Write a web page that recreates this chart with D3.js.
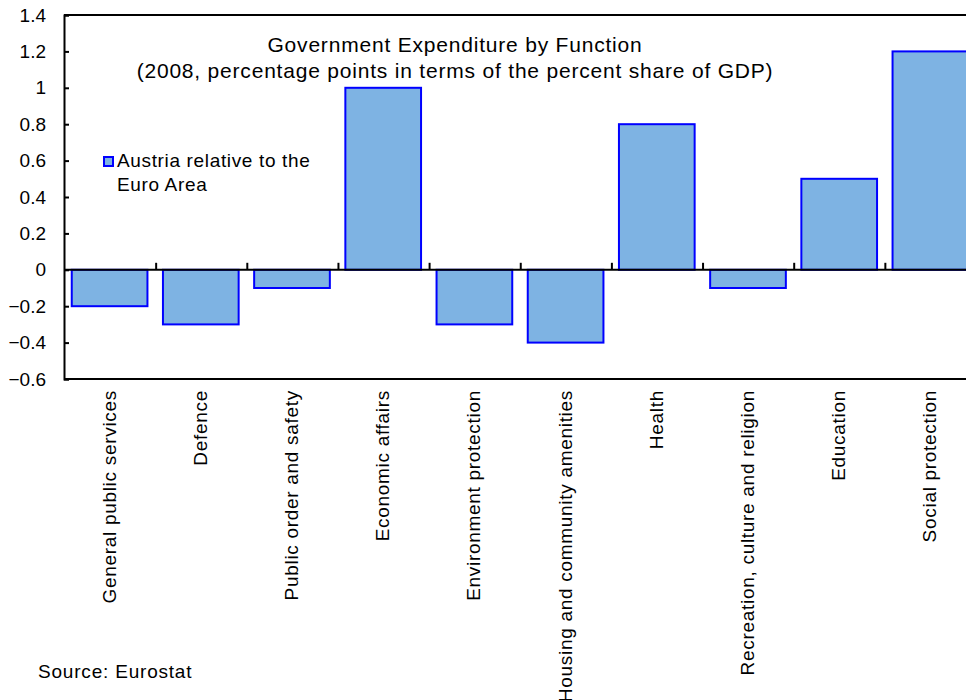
<!DOCTYPE html>
<html><head><meta charset="utf-8">
<script src="https://cdn.jsdelivr.net/npm/d3@7"></script>
<style>body{margin:0;background:#fff;} text{font-family:"Liberation Sans",Arial,sans-serif;fill:#000;}</style>
</head><body><svg id="c" width="966" height="700"></svg>
<script>
const categories = ["General public services","Defence","Public order and safety","Economic affairs","Environment protection","Housing and community amenities","Health","Recreation, culture and religion","Education","Social protection"];
const values = [-0.2,-0.3,-0.1,1.0,-0.3,-0.4,0.8,-0.1,0.5,1.2];
const yTicks = [-0.6,-0.4,-0.2,0,0.2,0.4,0.6,0.8,1,1.2,1.4];
const titleLines = ["Government Expenditure by Function","(2008, percentage points in terms of the percent share of GDP)"];
const seriesName = ["Austria relative to the","Euro Area"];
const source = "Source: Eurostat";

const svg = d3.select("#c");
const pLeft = 64, pRight = 976, pTop = 15, pBottom = 379;
const x = d3.scaleBand().domain(categories).range([pLeft, pRight]).paddingInner(0.17).paddingOuter(0.085);
const y = d3.scaleLinear().domain([-0.6, 1.4]).range([pBottom, pTop]);
const fillC = "#7EB3E3", strokeC = "#0000FF";

// bars
svg.append("g").selectAll("rect").data(values).join("rect")
  .attr("x", (d,i)=>x(categories[i]))
  .attr("width", x.bandwidth())
  .attr("y", d=>y(Math.max(0,d)))
  .attr("height", d=>Math.abs(y(d)-y(0)))
  .attr("fill",fillC).attr("stroke",strokeC).attr("stroke-width",2);

// top & bottom frame lines
svg.append("line").attr("x1",pLeft).attr("x2",966).attr("y1",y(1.4)).attr("y2",y(1.4)).attr("stroke","#000").attr("stroke-width",2);
svg.append("line").attr("x1",pLeft).attr("x2",966).attr("y1",y(-0.6)).attr("y2",y(-0.6)).attr("stroke","#000").attr("stroke-width",2);

// y axis
const yAxis = d3.axisLeft(y).tickValues(yTicks).tickSize(-5).tickPadding(18).tickFormat(d=>d3.format("")(+d.toFixed(1)));
const ya = svg.append("g").attr("transform",`translate(${pLeft},0)`).call(yAxis);
ya.select(".domain").attr("stroke","#000").attr("stroke-width",2);
ya.selectAll(".tick line").attr("stroke","#000").attr("stroke-width",2);
ya.selectAll("text").style("font-size","19px").attr("fill","#000").attr("font-family",null);

// zero line with category boundary ticks
const zx = d3.scaleLinear().domain([0, categories.length]).range([pLeft + 1, pRight + 0.5]);
svg.append("line").attr("x1",pLeft).attr("x2",966).attr("y1",y(0)).attr("y2",y(0)).attr("stroke","#000").attr("stroke-width",2);
svg.append("g").selectAll("line").data(d3.range(1, categories.length)).join("line")
  .attr("x1",d=>zx(d)).attr("x2",d=>zx(d)).attr("y1",y(0)).attr("y2",y(0)-7)
  .attr("stroke","#000").attr("stroke-width",2);

// x labels
svg.append("g").selectAll("text").data(categories).join("text")
  .attr("transform",d=>`translate(${x(d)+x.bandwidth()/2+6},${pBottom+11}) rotate(-90)`)
  .attr("text-anchor","end").style("font-size","19px").style("letter-spacing","0.7px").text(d=>d);

// title
svg.append("g").selectAll("text").data(titleLines).join("text")
  .attr("x",455).attr("y",(d,i)=>52+i*26).attr("text-anchor","middle")
  .style("font-size","21px").style("letter-spacing","0.8px").text(d=>d);

// legend
svg.append("rect").attr("x",104).attr("y",157).attr("width",9).attr("height",9).attr("fill",fillC).attr("stroke",strokeC).attr("stroke-width",2);
svg.append("g").selectAll("text").data(seriesName).join("text")
  .attr("x",117).attr("y",(d,i)=>167+i*23.5).style("font-size","19px").style("letter-spacing","0.65px").text(d=>d);

svg.append("text").attr("x",38).attr("y",678).style("font-size","19px").style("letter-spacing","0.8px").text(source);
</script></body></html>
